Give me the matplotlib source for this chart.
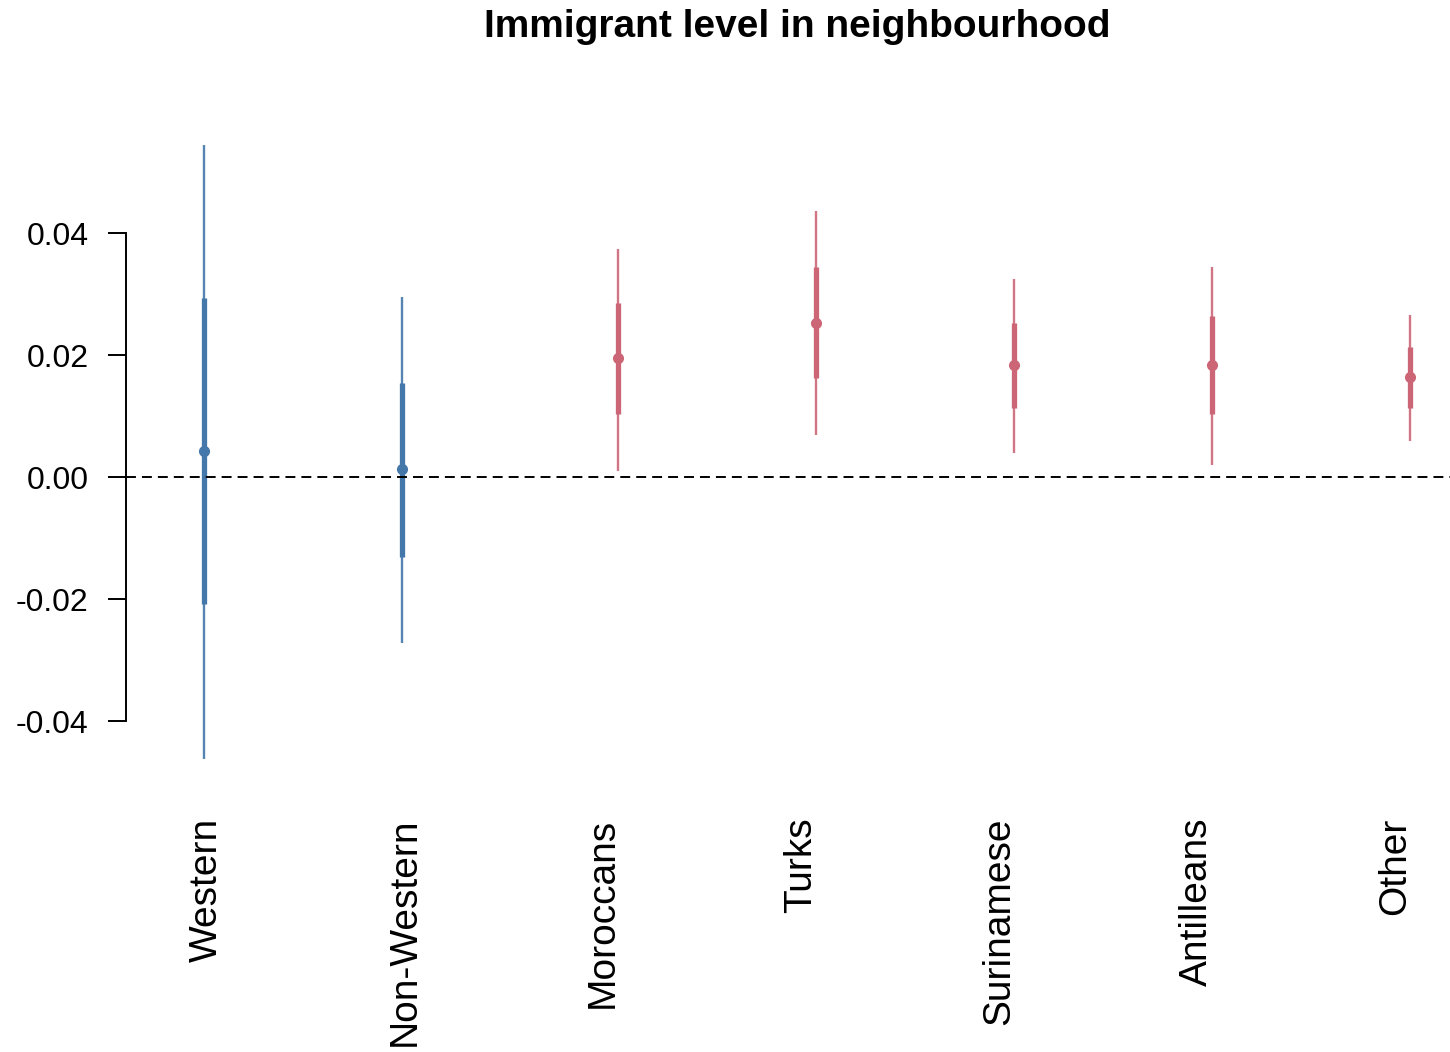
import numpy as np
import matplotlib
matplotlib.use('Agg')
import matplotlib.pyplot as plt

plt.rcParams['font.family'] = ['Liberation Sans', 'DejaVu Sans']

# Estimates and intervals
groups = ['Western', 'Non-Western', 'Moroccans', 'Turks', 'Surinamese', 'Antilleans', 'Other']
estimate = [0.0043, 0.0013, 0.0195, 0.0252, 0.0184, 0.0184, 0.0164]
ci95_low = [-0.0462, -0.0272, 0.0010, 0.0069, 0.0039, 0.0020, 0.0059]
ci95_high = [0.0544, 0.0295, 0.0374, 0.0436, 0.0325, 0.0344, 0.0266]
ci68_low = [-0.0208, -0.0131, 0.0103, 0.0162, 0.0113, 0.0103, 0.0113]
ci68_high = [0.0293, 0.0154, 0.0285, 0.0344, 0.0252, 0.0264, 0.0213]
generation = ['first', 'first', 'second', 'second', 'second', 'second', 'second']

colors = {'first': '#4477AA', 'second': '#CC6677'}
dodge = {'first': -0.015, 'second': 0.078}

W, H = 1450, 1052
fig = plt.figure(figsize=(W / 100, H / 100), dpi=100)
left, right, top, bottom = 126, 1450, 130, 780
ax = fig.add_axes([left / W, 1 - bottom / H, (right - left) / W, (bottom - top) / H])

pos = np.arange(1, len(groups) + 1)
for i, g in enumerate(groups):
    x = pos[i] + dodge[generation[i]]
    c = colors[generation[i]]
    ax.plot([x, x], [ci95_low[i], ci95_high[i]], color=c, lw=1.7, alpha=0.9, solid_capstyle='butt')
    ax.plot([x, x], [ci68_low[i], ci68_high[i]], color=c, lw=3.8, solid_capstyle='butt')
    ax.plot(x, estimate[i], 'o', color=c, ms=7, mec=c)

ax.axhline(0, color='black', lw=1.4, dashes=(5.1, 3.1))

ax.set_xlim(0.591, 7.278)
ax.set_ylim(-0.04967, 0.05689)

for s in ['top', 'right', 'bottom']:
    ax.spines[s].set_visible(False)
ax.spines['left'].set_bounds(-0.04, 0.04)
ax.spines['left'].set_linewidth(1.4)

ax.set_yticks([-0.04, -0.02, 0.0, 0.02, 0.04])
ax.set_yticklabels(['-0.04', '-0.02', '0.00', '0.02', '0.04'])
ax.tick_params(axis='y', length=13, width=1.4, labelsize=23, pad=14, colors='black')

ax.set_xticks(pos)
ax.set_xticklabels(groups, rotation=90, fontsize=28)
ax.tick_params(axis='x', length=0, pad=27)

fig.text(797 / W, 1 - 27 / H, 'Immigrant level in neighbourhood', ha='center', va='center',
         fontsize=28, fontweight='bold')

fig.savefig('out.png', dpi=100)
